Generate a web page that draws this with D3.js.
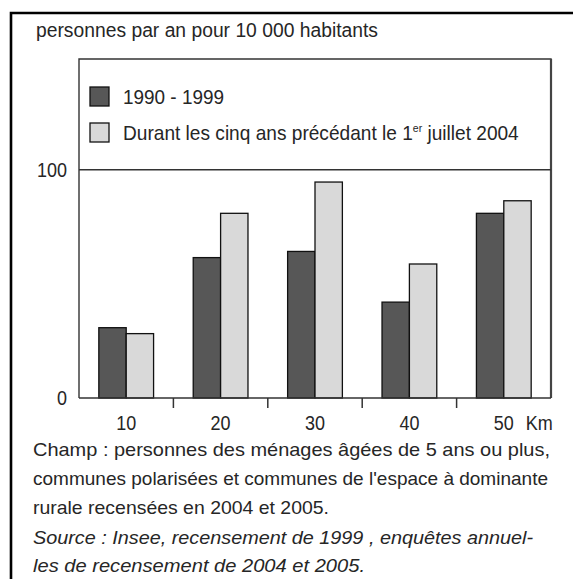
<!DOCTYPE html>
<html>
<head>
<meta charset="utf-8">
<script src="https://cdn.jsdelivr.net/npm/d3@7"></script>
<style>
  body { margin: 0; background: #fff; }
  svg text { font-family: "Liberation Sans", Arial, sans-serif; fill: #262626; }
</style>
</head>
<body>
<svg id="chart" width="573" height="579"></svg>
<script>
// data
const distances = ['10', '20', '30', '40', '50'];
const serie1990 = [30.8, 61.5, 64.2, 42.0, 80.9];
const serie2004 = [28.2, 80.9, 94.6, 58.7, 86.4];
const seriesNames = ['1990 - 1999', 'Durant les cinq ans précédant le 1'];
const yTicks = [0, 100];
const unitLabel = 'Km';
const title = 'personnes par an pour 10 000 habitants';
const notes = [
  'Champ : personnes des ménages âgées de 5 ans ou plus,',
  'communes polarisées et communes de l\'espace à dominante',
  'rurale recensées en 2004 et 2005.'
];
const sources = [
  'Source : Insee, recensement de 1999 , enquêtes annuel-',
  'les de recensement de 2004 et 2005.'
];

const colors = ['#575757', '#d9d9d9'];

{
  const svg = d3.select('#chart');

  const margin = {top: 59, left: 79, right: 22, bottom: 181},
      width = 573 - margin.left - margin.right,
      height = 579 - margin.top - margin.bottom;

  // outer box (top and left only)
  svg.append('path')
    .attr('d', 'M11,579V13H573')
    .attr('fill', 'none')
    .attr('stroke', '#000')
    .attr('stroke-width', 2.6);

  svg.append('text')
    .attr('x', 36).attr('y', 37)
    .attr('font-size', 20)
    .attr('textLength', 342).attr('lengthAdjust', 'spacingAndGlyphs')
    .text(title);

  const g = svg.append('g')
    .attr('transform', 'translate(' + margin.left + ',' + margin.top + ')');

  const x = d3.scaleBand()
    .domain(distances)
    .range([0, width])
    .paddingInner(0.42)
    .paddingOuter(0.21);

  const x1 = d3.scaleBand()
    .domain([0, 1])
    .range([0, x.bandwidth()]);

  const y = d3.scaleLinear()
    .domain([0, 148.5])
    .range([height, 0]);

  // frame
  g.append('path')
    .attr('d', 'M0,' + height + 'V0H' + width + 'V' + height)
    .attr('fill', 'none')
    .attr('stroke', '#333')
    .attr('stroke-width', 1.4);
  g.append('line')
    .attr('x1', width).attr('x2', width)
    .attr('y1', 0).attr('y2', height)
    .attr('stroke', '#444').attr('stroke-width', 2.2);

  // gridline at 100
  g.append('line')
    .attr('x1', 0).attr('x2', width)
    .attr('y1', y(100)).attr('y2', y(100))
    .attr('stroke', '#333').attr('stroke-width', 1.4);

  // y labels
  g.selectAll('.ylab')
    .data(yTicks)
    .enter().append('text')
    .attr('class', 'ylab')
    .attr('x', -12)
    .attr('y', d => y(d) + 7)
    .attr('text-anchor', 'end')
    .attr('font-size', 20)
    .attr('textLength', d => String(d).length * 10)
    .attr('lengthAdjust', 'spacingAndGlyphs')
    .text(d => d);

  // bars
  const groups = g.selectAll('.grp')
    .data(distances)
    .enter().append('g')
    .attr('class', 'grp')
    .attr('transform', d => 'translate(' + x(d) + ',0)');

  groups.selectAll('rect')
    .data((d, i) => [serie1990[i], serie2004[i]])
    .enter().append('rect')
    .attr('x', (d, j) => x1(j))
    .attr('width', x1.bandwidth())
    .attr('y', d => y(d))
    .attr('height', d => height - y(d))
    .attr('fill', (d, j) => colors[j])
    .attr('stroke', '#111')
    .attr('stroke-width', 1.3);

  // x axis line + ticks between groups
  g.append('line')
    .attr('x1', 0).attr('x2', width)
    .attr('y1', height).attr('y2', height)
    .attr('stroke', '#333').attr('stroke-width', 1.5);

  const gap = x.step() * x.paddingInner() / 2;
  g.selectAll('.tick')
    .data(distances.slice(1))
    .enter().append('line')
    .attr('class', 'tick')
    .attr('x1', d => x(d) - gap).attr('x2', d => x(d) - gap)
    .attr('y1', height).attr('y2', height + 10)
    .attr('stroke', '#333').attr('stroke-width', 1.5);

  g.selectAll('.xlab')
    .data(distances)
    .enter().append('text')
    .attr('class', 'xlab')
    .attr('x', d => x(d) + x.bandwidth() / 2)
    .attr('y', height + 32)
    .attr('text-anchor', 'middle')
    .attr('font-size', 20)
    .attr('textLength', 20)
    .attr('lengthAdjust', 'spacingAndGlyphs')
    .text(d => d);

  g.append('text')
    .attr('x', x('50') + x.bandwidth() / 2 + 22)
    .attr('y', height + 32)
    .attr('font-size', 20)
    .attr('textLength', 27)
    .attr('lengthAdjust', 'spacingAndGlyphs')
    .text(unitLabel);

  // legend
  const legend = g.selectAll('.leg')
    .data(seriesNames)
    .enter().append('g')
    .attr('class', 'leg')
    .attr('transform', (d, i) => 'translate(11,' + (28 + i * 36) + ')');

  legend.append('rect')
    .attr('width', 19).attr('height', 19)
    .attr('fill', (d, i) => colors[i])
    .attr('stroke', '#111')
    .attr('stroke-width', 1.3);

  const legText = legend.append('text')
    .attr('x', 33).attr('y', 17)
    .attr('font-size', 20);
  legText.filter((d, i) => i === 0)
    .attr('textLength', 101).attr('lengthAdjust', 'spacingAndGlyphs')
    .text(d => d);
  const lt2 = legText.filter((d, i) => i === 1);
  lt2.append('tspan').text(seriesNames[1]);
  lt2.append('tspan').attr('font-size', 11).attr('dy', -8).text('er');
  lt2.append('tspan').attr('dy', 8).text(' juillet 2004');

  // notes under the chart
  const noteWidths = [517, 515, 296];
  svg.selectAll('.note')
    .data(notes)
    .enter().append('text')
    .attr('class', 'note')
    .attr('x', 33)
    .attr('y', (d, i) => 456 + i * 29)
    .attr('font-size', 19)
    .attr('textLength', (d, i) => noteWidths[i])
    .attr('lengthAdjust', 'spacingAndGlyphs')
    .text(d => d);

  const srcWidths = [500, 332];
  svg.selectAll('.src')
    .data(sources)
    .enter().append('text')
    .attr('class', 'src')
    .attr('x', 33)
    .attr('y', (d, i) => 544 + i * 28)
    .attr('font-size', 19)
    .attr('font-style', 'italic')
    .attr('textLength', (d, i) => srcWidths[i])
    .attr('lengthAdjust', 'spacingAndGlyphs')
    .text(d => d);

  // fit legend line 2 to its measured width
  const lt2node = lt2.node();
  const w2 = lt2node.getComputedTextLength();
  lt2.attr('transform', 'translate(33,0) scale(' + (396 / w2) + ',1) translate(-33,0)');
}
</script>
</body>
</html>
